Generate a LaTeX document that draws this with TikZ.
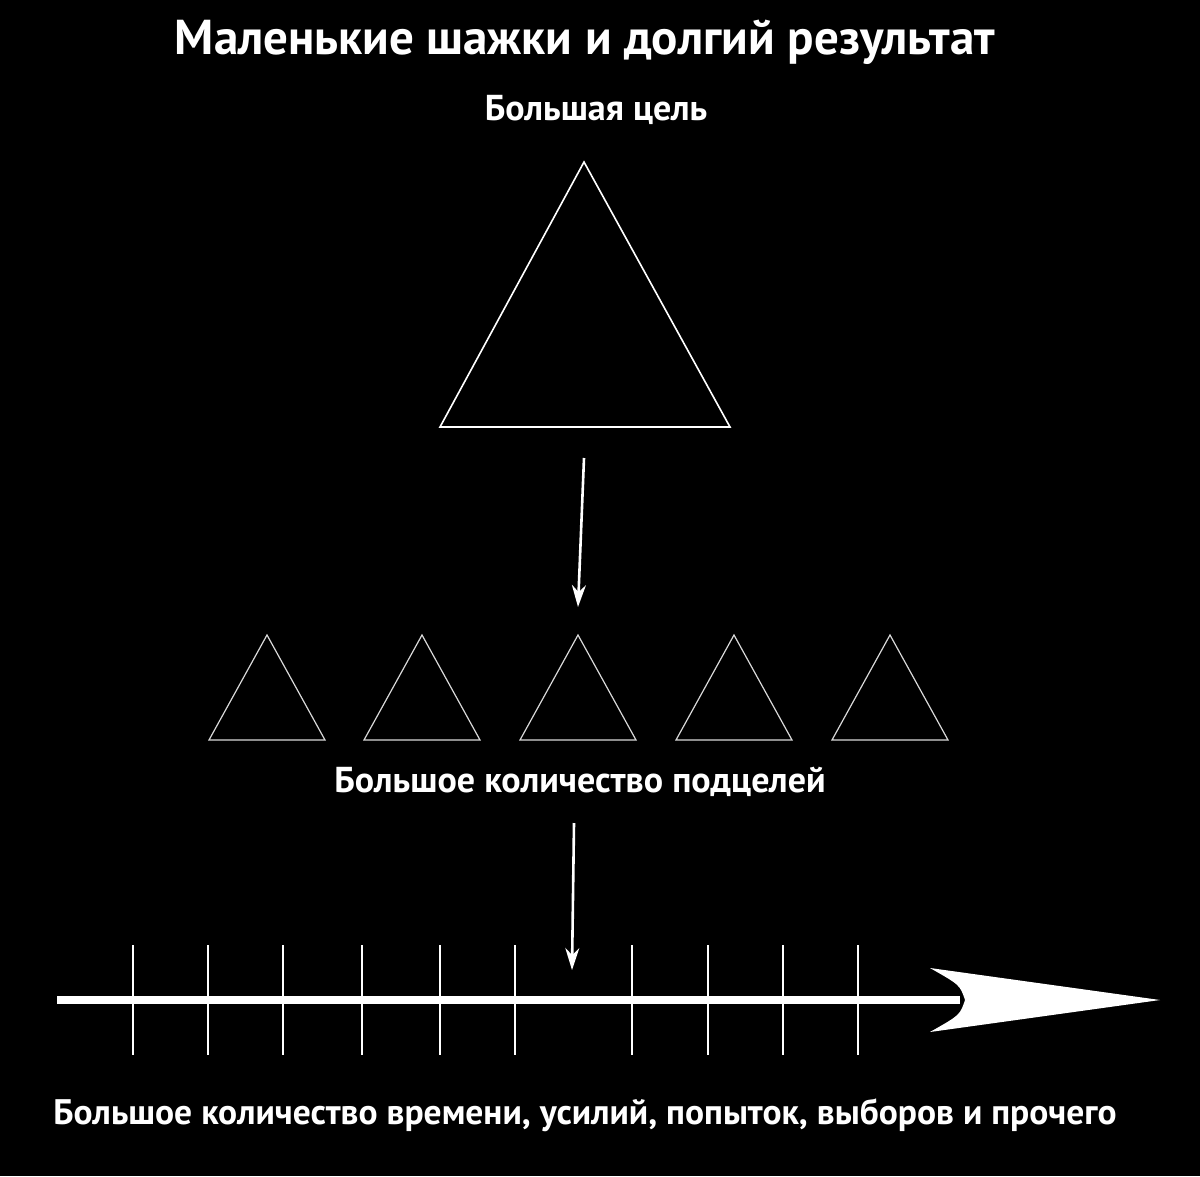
\documentclass[tikz,border=0pt]{standalone}
\usepackage{fontspec}
\setmainfont{PT Sans}
\usetikzlibrary{arrows.meta}
\begin{document}
\begin{tikzpicture}[x=1pt,y=-1pt,
  lbl/.style={text=white,font=\bfseries\fontsize{36}{40}\selectfont,inner sep=0pt},
  tri/.style={draw=white,line width=1.6pt,line join=miter},
  smalltri/.style={draw=white!85!black,line width=1.2pt},
  arr/.style={draw=white,line width=2.6pt,-{Stealth[length=22pt,width=14pt]}},
  tick/.style={draw=white,line width=1.5pt}]
\fill[black] (0,0) rectangle (1200,1176);
\useasboundingbox (0,0) rectangle (1200,1176);
\node[lbl,font=\bfseries\fontsize{49}{54}\selectfont] (title) at (585,42) {Маленькие шажки и долгий результат};
\node[lbl] (goal) at (596,110) {Большая цель};
\draw[tri] (584,162) -- (730,427) -- (440,427) -- cycle;
\coordinate (a1s) at (584,458); \coordinate (a1e) at (578,607);
\draw[arr] (a1s) -- (a1e);
\foreach \c in {267,422,578,734,890}{
  \draw[smalltri] (\c,635) -- (\c+58,740) -- (\c-58,740) -- cycle;}
\node[lbl] (sub) at (580,782) {Большое количество подцелей};
\coordinate (a2s) at (574,823); \coordinate (a2e) at (572,970);
\draw[arr] (a2s) -- (a2e);
\foreach \x in {133,208,283,362,440,515,632,708,783,858}{
  \draw[tick] (\x,945) -- (\x,1055);}
\coordinate (ls) at (57,1000); \coordinate (le) at (960,1000);
\draw[white,line width=8pt] (ls) -- (le);
\fill[white] (1160,1000) -- (930,968) .. controls (960,985) .. (965,1000) .. controls (960,1015) .. (930,1032) -- cycle;
\node[lbl,font=\bfseries\fontsize{35.5}{40}\selectfont] (bottom) at (585,1115) {Большое количество времени, усилий, попыток, выборов и прочего};
\end{tikzpicture}
\end{document}
